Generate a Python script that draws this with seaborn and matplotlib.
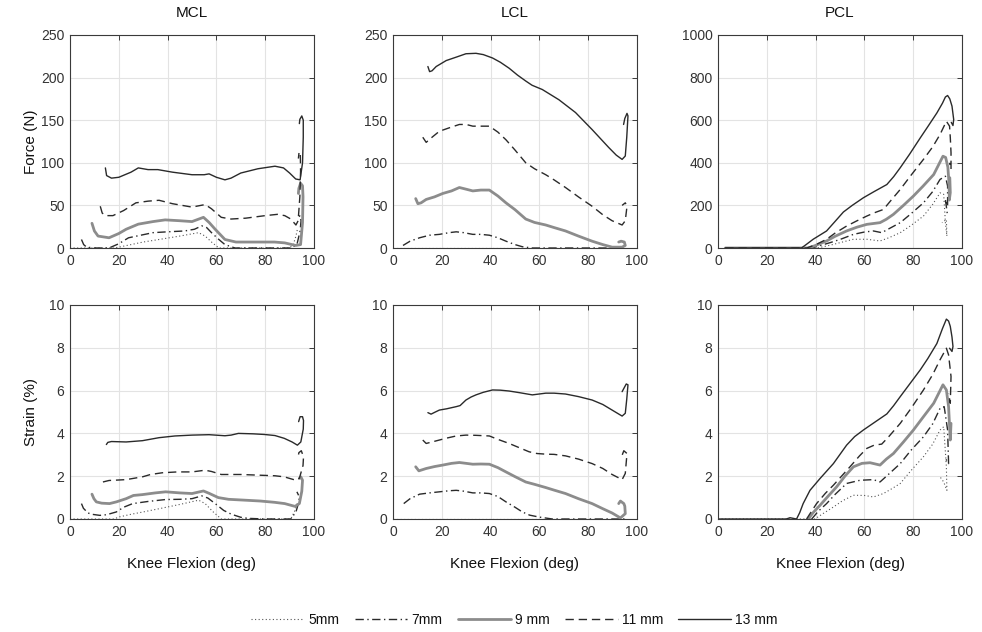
import matplotlib
matplotlib.use("Agg")
import matplotlib.pyplot as plt
from matplotlib.lines import Line2D
import numpy as np
import pandas as pd
import seaborn as sns

# ---------------------------------------------------------------- data
# Each series: (knee flexion deg, value) pairs in recorded order
# (the end of each trial loops back, so order matters).

sizes = ["5mm", "7mm", "9 mm", "11 mm", "13 mm"]
ligaments = ["MCL", "LCL", "PCL"]

mcl_force_13 = [(14.5, 94), (15, 85), (17, 82), (20, 83), (25, 89), (28, 94), (32, 92), (36, 92), (42, 89),
                (50, 86), (55, 86), (57, 87), (60, 83), (63.5, 80), (66, 82), (70, 88), (77, 93), (84, 96),
                (87.5, 94), (90, 88), (92.5, 81), (94.3, 80), (95.3, 100), (95.6, 130), (95.6, 150),
                (95, 155), (94.2, 151), (94, 146)]
mcl_force_11 = [(12.4, 49), (13.2, 41), (14.5, 38), (17.6, 38), (22, 44), (27, 53), (32, 55), (36.5, 56),
                (42, 52), (50, 48), (55.4, 51), (58, 46), (62, 36), (66, 34), (72, 35), (80, 38), (85, 39.5),
                (88, 38), (90.5, 34), (92.6, 27), (93.5, 32), (94.2, 60), (94.5, 90), (94.4, 110),
                (93.9, 113), (93.6, 105)]
mcl_force_9 = [(9, 29), (10, 20), (11.5, 14), (16, 12), (20, 17), (23, 22), (28, 28), (34, 31), (39, 33),
               (45, 32), (50, 31), (54.7, 36), (57, 30), (59.5, 22), (63.5, 10), (68, 7), (75, 7), (83.8, 7),
               (88, 6), (91, 4), (92.5, 3), (94.5, 4), (95.3, 30), (95.5, 60), (95.3, 73), (94.5, 76),
               (93.8, 70), (93.6, 64)]
mcl_force_7 = [(4.7, 10), (5.6, 4), (6.8, 1), (10, 0), (16, 0), (20, 5), (24, 12), (29, 15), (34, 18),
               (40, 19), (47, 20), (51, 22), (54, 26), (56, 24), (58, 18), (61, 10), (63.5, 4), (67.6, 0),
               (80, 0), (90.5, 0), (93, 4), (94.3, 20), (94.7, 32), (94.2, 38), (93.5, 34)]
mcl_force_5 = [(0, 0), (18, 0), (20, 1), (25, 4), (30, 7), (36.5, 10), (45, 14), (52.7, 18), (55.4, 14),
               (58, 7), (61, 0), (75, 0), (90, 0), (91.5, 4), (92.6, 14), (93.2, 22)]

mcl_strain_13 = [(14.9, 3.48), (15.5, 3.58), (17, 3.62), (23, 3.6), (29.7, 3.66), (36.5, 3.8), (43, 3.88),
                 (50, 3.92), (57, 3.94), (63.5, 3.89), (66, 3.92), (69, 4.0), (75, 3.98), (79.7, 3.95),
                 (84, 3.9), (87.8, 3.77), (91, 3.6), (93.2, 3.45), (94.6, 3.6), (95.6, 4.2), (95.7, 4.6),
                 (95.3, 4.78), (94.3, 4.78), (93.7, 4.55)]
mcl_strain_11 = [(13.5, 1.73), (16, 1.8), (23, 1.84), (29.7, 1.97), (33, 2.08), (37.8, 2.16), (44, 2.2),
                 (50, 2.2), (55.4, 2.28), (58, 2.22), (62, 2.08), (70, 2.08), (77, 2.05), (84, 2.02),
                 (87.8, 1.97), (92.6, 1.81), (94, 1.9), (95.5, 2.5), (95.7, 2.9), (94.8, 3.19), (93.8, 3.1),
                 (93.5, 2.9)]
mcl_strain_9 = [(9, 1.16), (9.8, 0.95), (10.8, 0.8), (13, 0.74), (16.2, 0.72), (19, 0.8), (23, 0.95),
                (26, 1.1), (29.7, 1.14), (35, 1.22), (39.2, 1.27), (45, 1.22), (50, 1.19), (54.7, 1.31),
                (57, 1.2), (60.8, 1.0), (65, 0.92), (71.6, 0.88), (78, 0.84), (83.8, 0.78), (88, 0.72),
                (92.2, 0.59), (94, 0.72), (95, 1.3), (95.3, 1.81), (94.6, 1.97), (94, 1.9)]
mcl_strain_7 = [(4.7, 0.72), (5.5, 0.5), (7.4, 0.28), (9, 0.22), (12.2, 0.17), (15, 0.2), (19, 0.33),
                (22, 0.55), (25.7, 0.72), (32, 0.82), (39.2, 0.91), (45, 0.92), (50, 0.95), (54, 1.08),
                (56.5, 0.98), (59.5, 0.72), (63, 0.4), (66.2, 0.22), (70, 0.08), (73, 0.03), (80, 0),
                (90.5, 0), (92.6, 0.33), (93.8, 0.8), (94, 1.03), (93, 1.27)]
mcl_strain_5 = [(0, 0), (18, 0), (20.3, 0.1), (25, 0.22), (30, 0.33), (36.5, 0.48), (45, 0.68), (52.7, 0.88),
                (55.4, 0.72), (58.5, 0.35), (62, 0), (75, 0), (90.5, 0), (92.2, 0.4), (93, 0.72)]

lcl_force_13 = [(14.3, 213), (15, 207), (16, 208), (17.7, 213), (21.8, 220), (25.9, 224), (29.9, 228),
                (34, 228.5), (37, 227), (40.8, 223), (44, 218), (47.6, 211), (51, 203), (54.4, 196),
                (57, 191), (61.2, 186), (68, 174), (74.8, 159), (81.6, 139), (88.4, 118), (91.5, 109),
                (93.9, 104), (95.2, 108), (95.8, 130), (96.3, 155), (95.9, 158), (95, 152), (94.5, 145)]
lcl_force_11 = [(12.2, 130), (13.6, 124), (16, 130), (19, 137), (23, 141), (27.2, 145), (30, 145),
                (32.7, 143), (36, 143), (39.5, 143), (43, 136), (46.3, 127), (50, 115), (54.4, 100),
                (58, 93), (62.6, 86), (66, 80), (70.7, 71), (76, 60), (81.6, 49), (86, 39), (89.8, 32),
                (93.9, 27), (95.2, 32), (95.9, 49), (95.2, 53), (93.9, 50)]
lcl_force_9 = [(9.3, 58), (10.2, 52), (11.5, 53), (13.6, 57), (17, 60), (20.4, 64), (24, 67), (27.2, 71),
               (30, 69), (32.7, 67), (36, 68), (39.5, 68), (43, 61), (46.3, 53), (50, 45), (54.4, 34),
               (58, 30), (62.6, 27), (66, 24), (70.7, 20), (76, 14), (81.6, 8), (86, 4), (89.8, 1),
               (93.9, 1), (95.2, 3), (94.8, 7), (93.5, 8), (92.5, 7)]
lcl_force_7 = [(4.1, 3), (7, 8), (10.9, 12), (15, 15), (19, 16), (23, 18), (25.9, 19), (29, 18), (32.7, 16),
               (36, 16), (39.5, 15), (43, 12), (46.3, 8), (50, 4), (53, 1.5), (57, 0), (70, 0), (85, 0),
               (95, 0)]
lcl_force_5 = [(0, 0), (20, 0), (40, 0), (60, 0), (80, 0), (95, 0)]

lcl_strain_13 = [(14.3, 4.97), (15.6, 4.9), (17, 4.98), (19, 5.09), (22, 5.15), (25.9, 5.25), (27.5, 5.3),
                 (29.9, 5.56), (32, 5.7), (34, 5.8), (37, 5.92), (40.8, 6.03), (44, 6.02), (47.6, 5.98),
                 (52, 5.9), (57.1, 5.8), (62.6, 5.88), (66, 5.88), (70.7, 5.84), (76, 5.72), (81.6, 5.56),
                 (86, 5.35), (89.8, 5.09), (93.9, 4.81), (95.2, 4.94), (95.8, 5.6), (96.3, 6.27),
                 (95.6, 6.31), (94.6, 6.1), (93.9, 5.95)]
lcl_strain_11 = [(12.2, 3.69), (13.6, 3.53), (16, 3.6), (19, 3.69), (22, 3.78), (25.9, 3.88), (29.9, 3.92),
                 (34, 3.91), (39.5, 3.88), (43, 3.72), (47.6, 3.53), (52, 3.32), (55.8, 3.14), (59, 3.06),
                 (62.6, 3.03), (66, 3.02), (70.7, 2.95), (76, 2.8), (81.6, 2.59), (86, 2.36), (89.8, 2.08),
                 (93.9, 1.84), (95.2, 2.13), (95.9, 3.06), (94.6, 3.19), (93.9, 2.98)]
lcl_strain_9 = [(9.3, 2.44), (10.6, 2.25), (13.6, 2.36), (17, 2.45), (20.4, 2.52), (24, 2.6), (27.2, 2.64),
                (30, 2.6), (32.7, 2.56), (36, 2.57), (39.5, 2.56), (43, 2.4), (46.3, 2.2), (50, 1.98),
                (54.4, 1.73), (58, 1.62), (62.6, 1.47), (66, 1.35), (70.7, 1.19), (76, 0.95), (81.6, 0.72),
                (86, 0.48), (89.8, 0.28), (93.2, 0.05), (95.2, 0.25), (95, 0.6), (94.6, 0.72), (93.2, 0.84),
                (92.5, 0.72)]
lcl_strain_7 = [(4.4, 0.72), (7, 0.95), (10.9, 1.16), (15, 1.22), (19, 1.27), (23, 1.32), (25.9, 1.34),
                (29, 1.3), (32.7, 1.22), (36, 1.22), (39.5, 1.19), (43, 1.05), (46.3, 0.8), (50, 0.55),
                (53, 0.33), (56, 0.18), (59.9, 0.09), (65.3, 0), (80, 0), (95.2, 0)]
lcl_strain_5 = [(0, 0), (20, 0), (40, 0), (60, 0), (80, 0), (95, 0)]

pcl_force_13 = [(3, 0), (10, 0), (20, 0), (30, 0), (34.2, 0), (36, 15), (39, 41), (44.5, 80), (48, 125),
                (51.4, 169), (55, 200), (59.6, 236), (64, 265), (69.2, 298), (72, 335), (74.7, 377),
                (78.5, 440), (82.9, 517), (86, 570), (89.7, 634), (92, 680), (93.2, 709), (94.1, 716),
                (95, 700), (95.9, 666), (96.6, 603), (96.3, 575), (95.6, 590)]
pcl_force_11 = [(3, 0), (36.3, 0), (40, 15), (44.5, 41), (48, 70), (52.7, 103), (57, 128), (61, 150),
                (64, 165), (67.8, 181), (71, 225), (74.7, 275), (79, 340), (84.2, 416), (88, 475), (91, 533),
                (93.6, 595), (94.9, 572), (95.2, 520), (95.5, 447), (95.5, 369), (94.9, 400)]
pcl_force_9 = [(3, 0), (37, 0), (40, 12), (44.5, 33), (48, 55), (52.7, 80), (57, 98), (61, 111),
               (66.4, 119), (69, 135), (71.9, 158), (76, 200), (80.1, 244), (84, 290), (88.4, 345),
               (92.2, 431), (93.3, 425), (94.2, 380), (94.7, 300), (94.8, 225), (95.2, 260), (95, 330)]
pcl_force_7 = [(3, 0), (38.4, 0), (42, 12), (45.9, 25), (50, 40), (55.5, 64), (60, 75), (63.7, 80),
               (67.1, 72), (70, 90), (74.7, 119), (79, 160), (84.2, 212), (88, 265), (91, 322), (93.2, 337),
               (94.1, 291), (94.1, 197), (93.2, 228), (94.1, 150)]
pcl_force_5 = [(3, 0), (40.4, 0), (44, 8), (47.3, 17), (51, 28), (55.5, 41), (61, 41), (66.4, 33), (70, 48),
               (74.7, 72), (79, 105), (84.2, 150), (88, 205), (91, 259), (92.5, 252), (93.2, 119),
               (93.8, 56), (93.6, 134), (91.8, 119)]

pcl_strain_13 = [(0, 0), (28, 0), (29.5, 0.06), (32.2, 0), (33.5, 0.3), (34.9, 0.72), (37.7, 1.34),
                 (41.8, 1.89), (47.3, 2.59), (52.7, 3.45), (56, 3.85), (59.6, 4.16), (65.1, 4.59),
                 (69.2, 4.91), (72, 5.3), (74.7, 5.72), (78.5, 6.3), (82.9, 6.97), (86, 7.5), (89.7, 8.2),
                 (92, 8.9), (93.6, 9.34), (94.5, 9.25), (95.2, 9.0), (95.9, 8.5), (96.3, 8.06),
                 (95.9, 7.83), (94.9, 7.98)]
pcl_strain_11 = [(36.3, 0), (38, 0.3), (40.4, 0.72), (44, 1.2), (47.3, 1.58), (54.1, 2.44), (58, 2.95),
                 (61, 3.3), (64, 3.45), (67.1, 3.5), (70, 3.85), (74.7, 4.47), (79, 5.15), (84.2, 6.03),
                 (88, 6.75), (91, 7.44), (93.6, 7.98), (94.5, 7.67), (95.5, 6.66), (95.2, 5.41),
                 (94.5, 5.88)]
pcl_strain_9 = [(37, 0), (39, 0.3), (41.8, 0.64), (45, 1.05), (48.6, 1.5), (52, 2.0), (55.5, 2.44),
                (59, 2.6), (62.3, 2.63), (66.4, 2.52), (69, 2.8), (71.9, 3.06), (76, 3.6), (80.1, 4.16),
                (84, 4.75), (88.4, 5.41), (92.2, 6.27), (93.6, 6.03), (94.5, 5.25), (95.2, 3.69),
                (95.5, 4.47)]
pcl_strain_7 = [(38.4, 0), (41, 0.35), (44.5, 0.72), (48, 1.15), (52.7, 1.66), (58.2, 1.81), (63.7, 1.84),
                (66.4, 1.73), (70, 2.1), (74.7, 2.59), (79, 3.2), (84.2, 3.84), (88, 4.45), (91, 5.17),
                (92.7, 5.25), (94.1, 4.16), (94.5, 2.59), (93.2, 2.83)]
pcl_strain_5 = [(0, 0), (5, 0), (39.7, 0), (43, 0.25), (47.3, 0.56), (51, 0.85), (55.5, 1.11), (60, 1.1),
                (63.7, 1.03), (67.8, 1.19), (71, 1.4), (74.7, 1.66), (79, 2.25), (84.2, 2.91), (88, 3.5),
                (91, 4.16), (92.5, 4.31), (93.6, 2.44), (93.8, 1.34), (92.5, 1.73), (91, 1.97)]

force_series = {
    "MCL": [mcl_force_5, mcl_force_7, mcl_force_9, mcl_force_11, mcl_force_13],
    "LCL": [lcl_force_5, lcl_force_7, lcl_force_9, lcl_force_11, lcl_force_13],
    "PCL": [pcl_force_5, pcl_force_7, pcl_force_9, pcl_force_11, pcl_force_13],
}
strain_series = {
    "MCL": [mcl_strain_5, mcl_strain_7, mcl_strain_9, mcl_strain_11, mcl_strain_13],
    "LCL": [lcl_strain_5, lcl_strain_7, lcl_strain_9, lcl_strain_11, lcl_strain_13],
    "PCL": [pcl_strain_5, pcl_strain_7, pcl_strain_9, pcl_strain_11, pcl_strain_13],
}
force_ylim = {"MCL": 250, "LCL": 250, "PCL": 1000}
force_step = {"MCL": 50, "LCL": 50, "PCL": 200}

# ---------------------------------------------------------------- styles
line_styles = [
    dict(color="#555555", lw=0.8, ls=(0, (1, 2.2))),        # 5mm dotted
    dict(color="#2a2a2a", lw=1.0, ls=(0, (6, 2.5, 1, 2.5))),  # 7mm dash-dot
    dict(color="#8c8c8c", lw=2.0, ls="-"),                   # 9 mm thick gray
    dict(color="#2a2a2a", lw=1.0, ls=(0, (6, 3.5))),          # 11 mm dashed
    dict(color="#2a2a2a", lw=1.0, ls="-"),                   # 13 mm solid
]

sns.set_theme(style="white")
plt.rcParams["font.family"] = ["Liberation Sans", "DejaVu Sans"]
text_col = "#333333"

fig = plt.figure(figsize=(9.82, 6.32), dpi=100)
W, H = 982.0, 632.0
col_left = [70, 393, 718]
ax_w = 244
rows = [(35, 248), (305, 519)]


def style_axis(ax, ymax, ystep):
    ax.set_xlim(0, 100)
    ax.set_ylim(0, ymax)
    ax.set_xticks(np.arange(0, 101, 20))
    ax.set_yticks(np.arange(0, ymax + 1, ystep))
    ax.grid(True, color="#e3e3e3", lw=0.8)
    ax.set_axisbelow(True)
    ax.tick_params(direction="in", length=3.5, width=0.7, top=True, right=True,
                   labelsize=10, colors="#3a3a3a", labelcolor=text_col, pad=4)
    for sp in ax.spines.values():
        sp.set_color("#3a3a3a")
        sp.set_linewidth(0.8)


def draw(ax, series_list):
    for pts, st in zip(series_list, line_styles):
        df = pd.DataFrame(pts, columns=["flex", "val"])
        sns.lineplot(data=df, x="flex", y="val", ax=ax, sort=False, estimator=None,
                     color=st["color"], linewidth=st["lw"], linestyle=st["ls"])
    ax.set_xlabel("")
    ax.set_ylabel("")


for r, (top, bot) in enumerate(rows):
    for c, lig in enumerate(ligaments):
        ax = fig.add_axes([col_left[c] / W, 1 - bot / H, ax_w / W, (bot - top) / H])
        if r == 0:
            draw(ax, force_series[lig])
            style_axis(ax, force_ylim[lig], force_step[lig])
            ax.set_title(lig, fontsize=11, color="#111111", pad=13)
            if c == 0:
                ax.set_ylabel("Force (N)", fontsize=11, color="#111111", labelpad=2.5)
        else:
            draw(ax, strain_series[lig])
            style_axis(ax, 10, 2)
            ax.set_xlabel("Knee Flexion (deg)", fontsize=11, color="#111111", labelpad=13)
            if c == 0:
                ax.set_ylabel("Strain (%)", fontsize=11, color="#111111", labelpad=8)

handles = [Line2D([0], [0], color=st["color"], lw=st["lw"], linestyle=st["ls"]) for st in line_styles]
fig.legend(handles, sizes, loc="center", bbox_to_anchor=(0.524, 1 - 620 / H), ncol=5, frameon=False,
           fontsize=10, handlelength=3.8, handletextpad=0.3, columnspacing=1.1, labelcolor="#111111")

fig.savefig("out.png", dpi=100, facecolor="white")
